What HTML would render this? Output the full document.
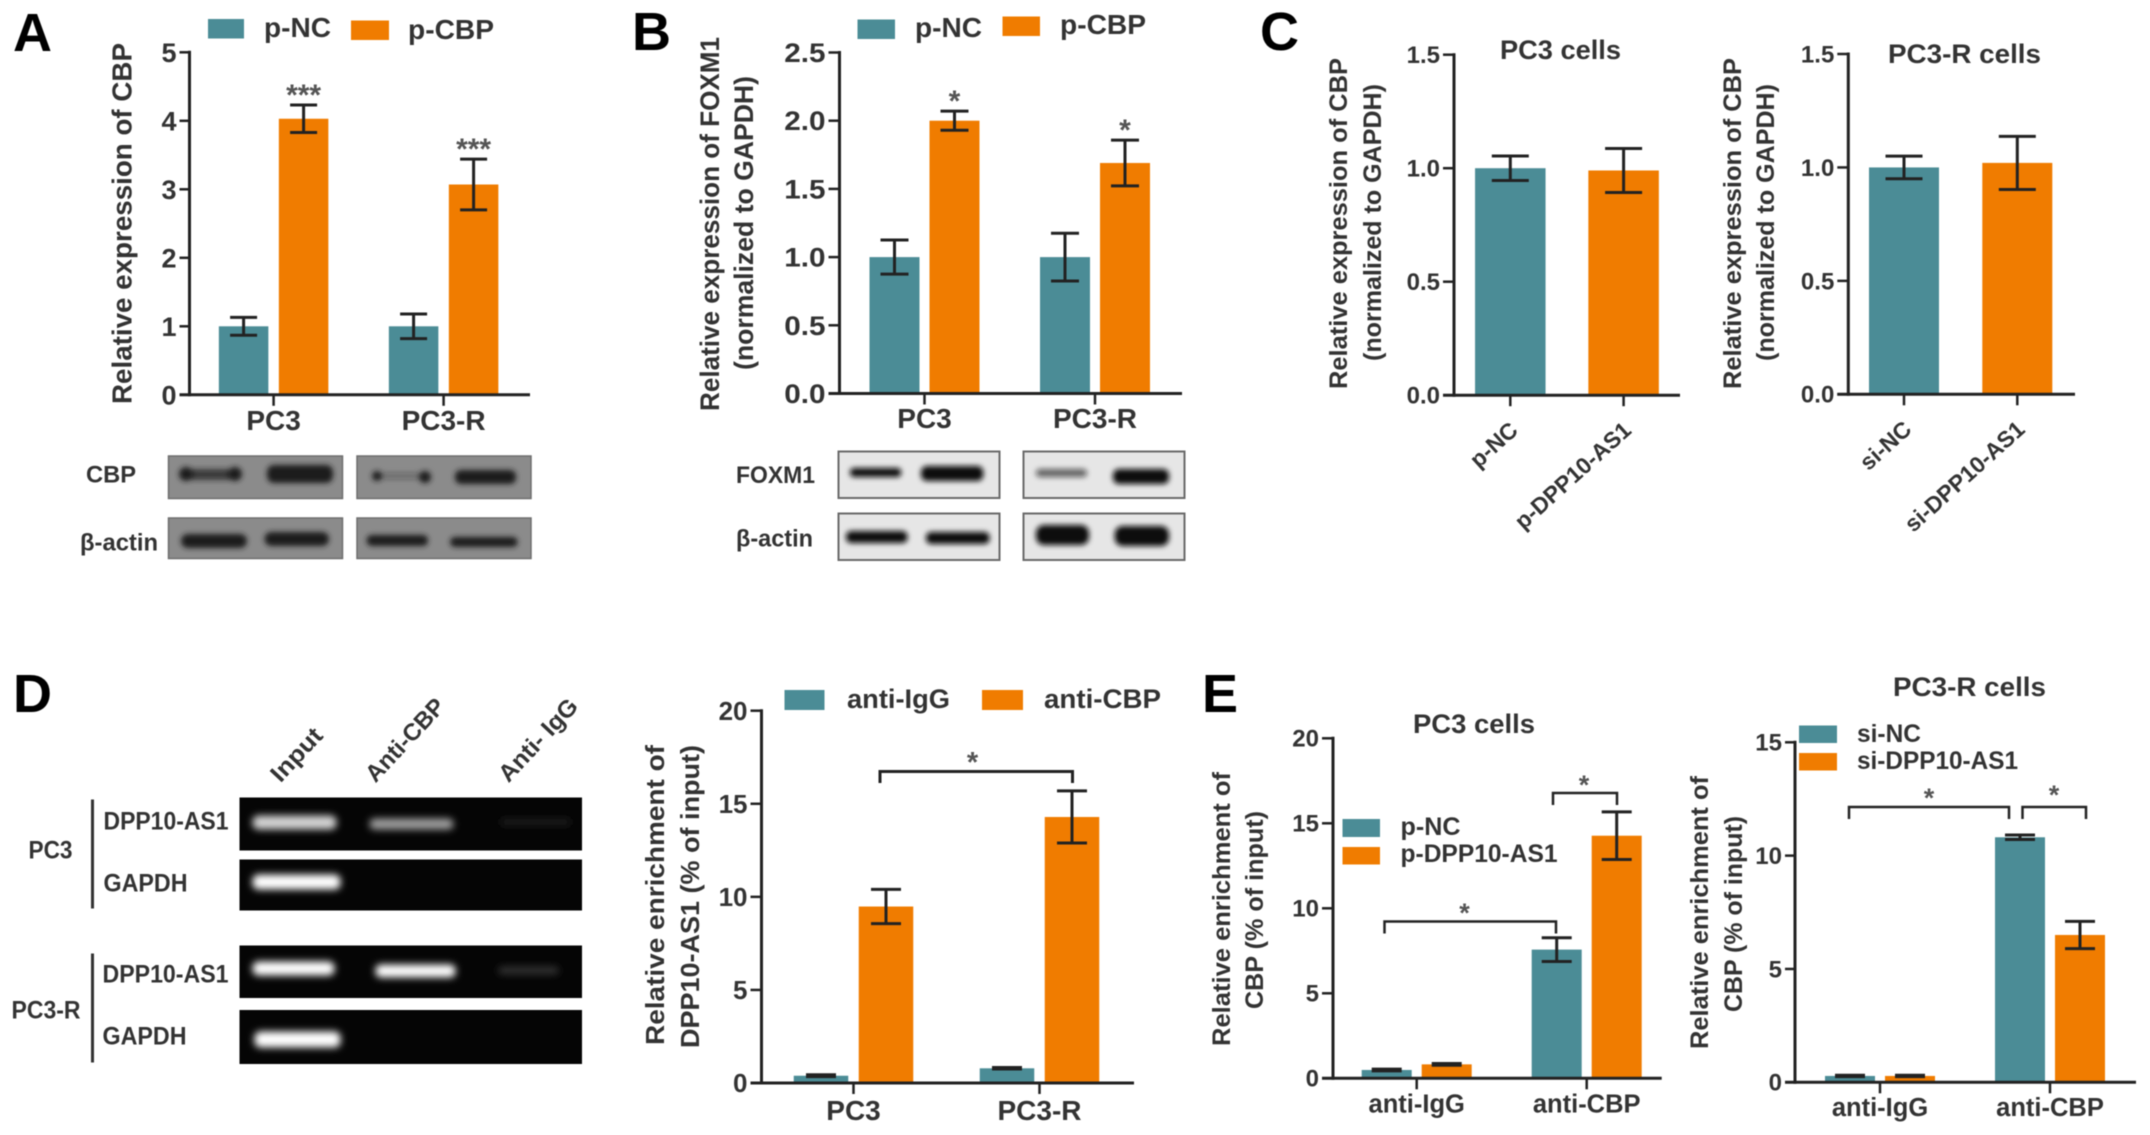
<!DOCTYPE html>
<html lang="en">
<head>
<meta charset="utf-8">
<title>CBP and DPP10-AS1 multi-panel figure</title>
<style>
html,body{margin:0;padding:0;background:#fff;width:2150px;height:1135px;overflow:hidden}
svg{display:block;filter:blur(.6px)}
text{font-family:"Liberation Sans",Arial,sans-serif;font-weight:bold;fill:#333}
.letter{fill:#000;font-size:54px}
.star{fill:#555}
</style>
</head>
<body>
<svg id="figure" xmlns="http://www.w3.org/2000/svg" width="2150" height="1135" viewBox="0 0 2150 1135">
<defs>
<filter id="blur2" x="-30%" y="-150%" width="160%" height="400%"><feGaussianBlur stdDeviation="2.6"/></filter>
<filter id="blur3" x="-30%" y="-200%" width="160%" height="500%"><feGaussianBlur stdDeviation="3.6"/></filter>
</defs>
<rect width="2150" height="1135" fill="#fff"/>

<!-- Panel A -->
<text class="letter" x="13" y="51">A</text>
<g>
<rect x="208" y="19" width="36" height="19.5" fill="#4b8c96"/>
<text x="264" y="37" font-size="28" textLength="67" lengthAdjust="spacingAndGlyphs">p-NC</text>
<rect x="351" y="20.5" width="38" height="19.5" fill="#f07c00"/>
<text x="408" y="39" font-size="28" textLength="86" lengthAdjust="spacingAndGlyphs">p-CBP</text>
</g>
<text transform="translate(131.5,404) rotate(-90)" font-size="28" textLength="361" lengthAdjust="spacingAndGlyphs">Relative expression of CBP</text>
<g id="chart-a"></g>
<g>
<text x="86" y="482.5" font-size="24" textLength="50" lengthAdjust="spacingAndGlyphs">CBP</text>
<text x="80" y="550.5" font-size="24" textLength="78" lengthAdjust="spacingAndGlyphs">β-actin</text>
<g fill="#8b8b8b" stroke="#6e6e6e" stroke-width="1.5">
<rect x="168.5" y="456" width="174" height="42.5"/><rect x="357" y="456" width="174" height="42.5"/>
<rect x="168.5" y="518" width="174" height="40.5"/><rect x="357" y="518" width="174" height="40.5"/>
</g>
<g fill="#1d1d1d" filter="url(#blur2)">
<rect x="179" y="469" width="62" height="11" rx="5" opacity=".72"/><circle cx="186" cy="474" r="7"/><circle cx="235" cy="474" r="7"/>
<rect x="267" y="465" width="66" height="18" rx="7"/>
<rect x="375" y="473" width="55" height="6" rx="3" opacity=".3"/><circle cx="377" cy="476" r="5"/><circle cx="425" cy="477" r="6"/>
<rect x="455" y="470" width="61" height="14" rx="6"/>
<rect x="181" y="534" width="66" height="14" rx="7"/><rect x="264.5" y="532" width="64.5" height="14" rx="7"/>
<rect x="366.6" y="535" width="61.4" height="11" rx="5"/><rect x="450" y="537" width="67.7" height="10" rx="5"/>
</g>
</g>

<!-- Panel B -->
<text class="letter" x="632" y="50">B</text>
<g>
<rect x="857.5" y="19.5" width="37.5" height="19.5" fill="#4b8c96"/>
<text x="915" y="37" font-size="28" textLength="67" lengthAdjust="spacingAndGlyphs">p-NC</text>
<rect x="1002.5" y="16.5" width="37.5" height="19.5" fill="#f07c00"/>
<text x="1060" y="34" font-size="28" textLength="86" lengthAdjust="spacingAndGlyphs">p-CBP</text>
</g>
<text transform="translate(719,411) rotate(-90)" font-size="27" textLength="374" lengthAdjust="spacingAndGlyphs">Relative expression of FOXM1</text>
<text transform="translate(753,370) rotate(-90)" font-size="27" textLength="294" lengthAdjust="spacingAndGlyphs">(normalized to GAPDH)</text>
<g id="chart-b"></g>
<g>
<text x="736" y="483" font-size="24" textLength="79" lengthAdjust="spacingAndGlyphs">FOXM1</text>
<text x="736" y="546.5" font-size="24" textLength="77" lengthAdjust="spacingAndGlyphs">β-actin</text>
<g fill="#e6e6e6" stroke="#6a6a6a" stroke-width="2">
<rect x="838.5" y="451.5" width="161" height="46.5"/><rect x="1023.5" y="451.5" width="161" height="46.5"/>
<rect x="838.5" y="513.5" width="161" height="46.5"/><rect x="1023.5" y="513.5" width="161" height="46.5"/>
</g>
<g fill="#0d0d0d" filter="url(#blur2)">
<rect x="850" y="468" width="51.2" height="9" rx="4"/><rect x="921" y="466" width="62.3" height="15" rx="6"/>
<rect x="1036" y="469" width="51" height="8" rx="4" opacity=".62"/><rect x="1113" y="469" width="56" height="15" rx="6"/>
<rect x="846" y="531" width="61.5" height="12" rx="5"/><rect x="926" y="532" width="63.6" height="12" rx="5"/>
<rect x="1036" y="525" width="53" height="20" rx="8"/><rect x="1114.7" y="526" width="54.3" height="20" rx="8"/>
</g>
</g>

<!-- Panel C -->
<text class="letter" x="1260" y="50">C</text>
<text x="1500" y="59" font-size="27" textLength="121" lengthAdjust="spacingAndGlyphs">PC3 cells</text>
<text x="1888" y="63" font-size="27" textLength="153" lengthAdjust="spacingAndGlyphs">PC3-R cells</text>
<text transform="translate(1347,389) rotate(-90)" font-size="25" textLength="331" lengthAdjust="spacingAndGlyphs">Relative expression of CBP</text>
<text transform="translate(1381,361) rotate(-90)" font-size="25" textLength="277" lengthAdjust="spacingAndGlyphs">(normalized to GAPDH)</text>
<text transform="translate(1741,389) rotate(-90)" font-size="25" textLength="331" lengthAdjust="spacingAndGlyphs">Relative expression of CBP</text>
<text transform="translate(1774,361) rotate(-90)" font-size="25" textLength="277" lengthAdjust="spacingAndGlyphs">(normalized to GAPDH)</text>
<g id="chart-c1"></g>
<g id="chart-c2"></g>

<!-- Panel D gel -->
<text class="letter" x="13" y="712">D</text>
<g transform="translate(-1.5,-1.5)">
<text transform="translate(282,785) rotate(-47)" font-size="24" textLength="64" lengthAdjust="spacingAndGlyphs">Input</text>
<text transform="translate(377,785) rotate(-47)" font-size="24" textLength="104" lengthAdjust="spacingAndGlyphs">Anti-CBP</text>
<text transform="translate(510,785) rotate(-47)" font-size="24" textLength="104" lengthAdjust="spacingAndGlyphs">Anti- IgG</text>
<text x="30" y="860" font-size="25" textLength="44" lengthAdjust="spacingAndGlyphs">PC3</text>
<text x="13" y="1020" font-size="25" textLength="69" lengthAdjust="spacingAndGlyphs">PC3-R</text>
<line x1="94" y1="801" x2="94" y2="910" stroke="#333" stroke-width="3"/>
<line x1="94" y1="955" x2="94" y2="1064" stroke="#333" stroke-width="3"/>
<text x="105" y="831" font-size="25" textLength="125" lengthAdjust="spacingAndGlyphs">DPP10-AS1</text>
<text x="105" y="893" font-size="25" textLength="84" lengthAdjust="spacingAndGlyphs">GAPDH</text>
<text x="104" y="984" font-size="25" textLength="126" lengthAdjust="spacingAndGlyphs">DPP10-AS1</text>
<text x="104" y="1046" font-size="25" textLength="84" lengthAdjust="spacingAndGlyphs">GAPDH</text>
<g fill="#050505">
<rect x="241" y="799" width="342.5" height="53"/><rect x="241" y="861" width="342.5" height="51"/>
<rect x="241" y="947" width="342.5" height="52.5"/><rect x="241" y="1011.5" width="342.5" height="54"/>
</g>
<g filter="url(#blur3)">
<rect x="254" y="817" width="84" height="14" rx="6" fill="#d4d4d4"/><rect x="371" y="820" width="84" height="11" rx="5" fill="#a0a0a0"/><rect x="502" y="820" width="70" height="7" rx="3" fill="#1e1e1e"/>
<rect x="254" y="876" width="88" height="15" rx="6" fill="#ffffff"/>
<rect x="254" y="963" width="82" height="14" rx="6" fill="#ffffff"/><rect x="377" y="966" width="80" height="13" rx="5" fill="#ffffff"/><rect x="500" y="968" width="60" height="8" rx="3" fill="#303030"/>
<rect x="256" y="1033" width="86" height="16" rx="6" fill="#ffffff"/>
</g>
</g>

<!-- Panel D chart -->
<g>
<rect x="784.5" y="690" width="40" height="20" fill="#4b8c96"/>
<text x="847" y="708" font-size="27" textLength="103" lengthAdjust="spacingAndGlyphs">anti-IgG</text>
<rect x="982" y="690" width="41" height="20" fill="#f07c00"/>
<text x="1044" y="708" font-size="27" textLength="117" lengthAdjust="spacingAndGlyphs">anti-CBP</text>
</g>
<text transform="translate(664,1045) rotate(-90)" font-size="26" textLength="300" lengthAdjust="spacingAndGlyphs">Relative enrichment of</text>
<text transform="translate(699,1048) rotate(-90)" font-size="26" textLength="303" lengthAdjust="spacingAndGlyphs">DPP10-AS1 (% of input)</text>
<g id="chart-d"></g>
<path d="M880 783V771.5H1072.5V783" fill="none" stroke="#222" stroke-width="3"/>
<text class="star" x="972.5" y="772" font-size="29" text-anchor="middle">*</text>

<!-- Panel E -->
<text class="letter" x="1202" y="712">E</text>
<text x="1413" y="733" font-size="27" textLength="122" lengthAdjust="spacingAndGlyphs">PC3 cells</text>
<text x="1893" y="696" font-size="27" textLength="153" lengthAdjust="spacingAndGlyphs">PC3-R cells</text>
<g>
<rect x="1342.5" y="819" width="37.5" height="18" fill="#4b8c96"/>
<text x="1400.5" y="835" font-size="25" textLength="60" lengthAdjust="spacingAndGlyphs">p-NC</text>
<rect x="1342.5" y="847" width="37.5" height="17.5" fill="#f07c00"/>
<text x="1400.5" y="862" font-size="25" textLength="157" lengthAdjust="spacingAndGlyphs">p-DPP10-AS1</text>
</g>
<g>
<rect x="1799" y="725.5" width="38" height="17.5" fill="#4b8c96"/>
<text x="1857" y="742" font-size="25" textLength="64" lengthAdjust="spacingAndGlyphs">si-NC</text>
<rect x="1799" y="753" width="38" height="17.5" fill="#f07c00"/>
<text x="1857" y="769" font-size="25" textLength="161" lengthAdjust="spacingAndGlyphs">si-DPP10-AS1</text>
</g>
<text transform="translate(1230,1046) rotate(-90)" font-size="25" textLength="274" lengthAdjust="spacingAndGlyphs">Relative enrichment of</text>
<text transform="translate(1263,1009) rotate(-90)" font-size="25" textLength="198" lengthAdjust="spacingAndGlyphs">CBP (% of input)</text>
<text transform="translate(1708,1049) rotate(-90)" font-size="25" textLength="273" lengthAdjust="spacingAndGlyphs">Relative enrichment of</text>
<text transform="translate(1742,1012) rotate(-90)" font-size="25" textLength="196" lengthAdjust="spacingAndGlyphs">CBP (% of input)</text>
<g id="chart-e1"></g>
<g id="chart-e2"></g>
<path d="M1384.5 933.5V921.5H1556V933.5" fill="none" stroke="#222" stroke-width="2.5"/>
<text class="star" x="1464.5" y="922" font-size="27" text-anchor="middle">*</text>
<path d="M1553 805V793H1617V805" fill="none" stroke="#222" stroke-width="2.5"/>
<text class="star" x="1584" y="794" font-size="27" text-anchor="middle">*</text>
<path d="M1849 819V807H2009V819" fill="none" stroke="#222" stroke-width="2.5"/>
<text class="star" x="1929" y="807" font-size="27" text-anchor="middle">*</text>
<path d="M2022.5 819V807H2086V819" fill="none" stroke="#222" stroke-width="2.5"/>
<text class="star" x="2054" y="804" font-size="27" text-anchor="middle">*</text>
</svg>

<script>
// ---- Chart data ----
const aCategories = ['PC3', 'PC3-R'];
const aTicks = ['0', '1', '2', '3', '4', '5'];
const aNC = [1.0, 1.0];
const aNCErr = [0.13, 0.18];
const aCBP = [4.03, 3.07];
const aCBPErr = [0.2, 0.37];
const aCBPStars = ['***', '***'];

const bCategories = ['PC3', 'PC3-R'];
const bTicks = ['0.0', '0.5', '1.0', '1.5', '2.0', '2.5'];
const bNC = [1.0, 1.0];
const bNCErr = [0.125, 0.175];
const bCBP = [2.0, 1.69];
const bCBPErr = [0.07, 0.168];
const bCBPStars = ['*', '*'];

const c1Categories = ['p-NC', 'p-DPP10-AS1'];
const c1Ticks = ['0.0', '0.5', '1.0', '1.5'];
const c1Values = [1.0, 0.99];
const c1Err = [0.054, 0.097];

const c2Categories = ['si-NC', 'si-DPP10-AS1'];
const c2Ticks = ['0.0', '0.5', '1.0', '1.5'];
const c2Values = [1.0, 1.02];
const c2Err = [0.05, 0.117];

const dCategories = ['PC3', 'PC3-R'];
const dTicks = ['0', '5', '10', '15', '20'];
const dIgG = [0.39, 0.79];
const dIgGErr = [0.05, 0.04];
const dCBP = [9.48, 14.29];
const dCBPErr = [0.92, 1.4];

const e1Categories = ['anti-IgG', 'anti-CBP'];
const e1Ticks = ['0', '5', '10', '15', '20'];
const e1NC = [0.49, 7.57];
const e1NCErr = [0.05, 0.7];
const e1DPP = [0.82, 14.27];
const e1DPPErr = [0.05, 1.4];

const e2Categories = ['anti-IgG', 'anti-CBP'];
const e2Ticks = ['0', '5', '10', '15'];
const e2NC = [0.28, 10.81];
const e2NCErr = [0.03, 0.1];
const e2DPP = [0.28, 6.5];
const e2DPPErr = [0.03, 0.6];

const TEAL = '#4b8c96';
const ORANGE = '#f07c00';
const NS = 'http://www.w3.org/2000/svg';

function makeEl(tag, parent) {
  const el = document.createElementNS(NS, tag);
  parent.appendChild(el);
  return el;
}

function drawChart(o) {
  const root = document.getElementById(o.id);
  const yMax = Number(o.ticks[o.ticks.length - 1]);
  const yScale = function (v) { return o.bottom - (v / yMax) * (o.bottom - o.top); };
  const xCenter = function (i) { return o.firstX + i * o.stepX; };

  // bars
  o.series.forEach(function (s) {
    s.values.forEach(function (v, i) {
      const x = xCenter(i) + s.offset;
      const rect = makeEl('rect', root);
      rect.setAttribute('x', x - o.barW / 2);
      rect.setAttribute('y', yScale(v));
      rect.setAttribute('width', o.barW);
      rect.setAttribute('height', o.bottom - yScale(v));
      rect.setAttribute('fill', s.colors ? s.colors[i] : s.color);
      
      
    });
  });

  // y axis line
  const yAxis = makeEl('line', root);
  yAxis.setAttribute('x1', o.left);
  yAxis.setAttribute('x2', o.left);
  yAxis.setAttribute('y1', o.top - 1.5);
  yAxis.setAttribute('y2', o.bottom + 1.5);
  yAxis.setAttribute('stroke', '#222');
  yAxis.setAttribute('stroke-width', 3);
  
  

  // x axis line
  const xAxis = makeEl('line', root);
  xAxis.setAttribute('x1', o.left - o.tickLen);
  xAxis.setAttribute('x2', o.right);
  xAxis.setAttribute('y1', o.bottom);
  xAxis.setAttribute('y2', o.bottom);
  xAxis.setAttribute('stroke', '#222');
  xAxis.setAttribute('stroke-width', 3);
  
  

  // y ticks and labels
  o.ticks.forEach(function (label) {
    const y = yScale(Number(label));
    const tick = makeEl('line', root);
    tick.setAttribute('x1', o.left - o.tickLen);
    tick.setAttribute('x2', o.left);
    tick.setAttribute('y1', y);
    tick.setAttribute('y2', y);
    tick.setAttribute('stroke', '#222');
    tick.setAttribute('stroke-width', 2.5);
    
    
    const t = makeEl('text', root);
    t.textContent = label;
    t.setAttribute('transform', 'translate(' + (o.left - o.tickLen - 3) + ',' + (y + o.tickFont * 0.35) + ') scale(' + o.tickStretch + ',1)');
    t.setAttribute('text-anchor', 'end');
    t.setAttribute('font-size', o.tickFont);
    
    
  });

  // x ticks and category labels
  o.categories.forEach(function (label, i) {
    const x = xCenter(i);
    const tick = makeEl('line', root);
    tick.setAttribute('x1', x);
    tick.setAttribute('x2', x);
    tick.setAttribute('y1', o.bottom);
    tick.setAttribute('y2', o.bottom + 11);
    tick.setAttribute('stroke', '#222');
    tick.setAttribute('stroke-width', 2.5);
    
    
    const t = makeEl('text', root);
    t.textContent = label;
    if (o.catRotate) {
      t.setAttribute('transform', 'translate(' + (x + 9) + ',' + (o.bottom + 37) + ') rotate(' + o.catRotate + ')');
      t.setAttribute('text-anchor', 'end');
    } else {
      t.setAttribute('x', x);
      t.setAttribute('y', o.catY);
      t.setAttribute('text-anchor', 'middle');
    }
    t.setAttribute('font-size', o.catFont);
    
    
  });

  // error bars
  o.series.forEach(function (s) {
    s.values.forEach(function (v, i) {
      const x = xCenter(i) + s.offset;
      const yHi = yScale(v + s.errors[i]);
      const yLo = yScale(v - s.errors[i]);
      const c = o.capW / 2;
      const err = makeEl('path', root);
      err.setAttribute('d', 'M' + (x - c) + ' ' + yHi + 'H' + (x + c) + 'M' + x + ' ' + yHi + 'V' + yLo + 'M' + (x - c) + ' ' + yLo + 'H' + (x + c));
      err.setAttribute('fill', 'none');
      err.setAttribute('stroke', '#222');
      err.setAttribute('stroke-width', 3);
      
      
      if (s.stars) {
        const star = makeEl('text', root);
        star.textContent = s.stars[i];
        star.setAttribute('x', x);
        star.setAttribute('y', yHi);
        star.setAttribute('text-anchor', 'middle');
        star.setAttribute('font-size', 30);
        star.setAttribute('class', 'star');
        
        
      }
    });
  });
}

drawChart({
  id: 'chart-a', left: 189.5, right: 530, top: 52.3, bottom: 394.8, tickLen: 10,
  firstX: 273.6, stepX: 170, barW: 49.5, capW: 27, tickFont: 27, tickStretch: 1, catFont: 28, catY: 430,
  categories: aCategories, ticks: aTicks,
  series: [
    { key: 'p-nc', values: aNC, errors: aNCErr, color: TEAL, offset: -30 },
    { key: 'p-cbp', values: aCBP, errors: aCBPErr, color: ORANGE, offset: 30, stars: aCBPStars }
  ]
});

drawChart({
  id: 'chart-b', left: 839.5, right: 1182, top: 52.5, bottom: 393.5, tickLen: 11,
  firstX: 924.5, stepX: 170.5, barW: 50, capW: 28, tickFont: 27, tickStretch: 1.1, catFont: 28, catY: 428,
  categories: bCategories, ticks: bTicks,
  series: [
    { key: 'p-nc', values: bNC, errors: bNCErr, color: TEAL, offset: -30 },
    { key: 'p-cbp', values: bCBP, errors: bCBPErr, color: ORANGE, offset: 30, stars: bCBPStars }
  ]
});

drawChart({
  id: 'chart-c1', left: 1454, right: 1680, top: 54.7, bottom: 395.2, tickLen: 11,
  firstX: 1510.3, stepX: 113.3, barW: 70.5, capW: 37, tickFont: 24, tickStretch: 1, catFont: 23, catRotate: -42,
  categories: c1Categories, ticks: c1Ticks,
  series: [
    { key: 'cbp', values: c1Values, errors: c1Err, colors: [TEAL, ORANGE], offset: 0 }
  ]
});

drawChart({
  id: 'chart-c2', left: 1848.3, right: 2075, top: 54, bottom: 394.3, tickLen: 11,
  firstX: 1904, stepX: 113.3, barW: 70, capW: 37, tickFont: 24, tickStretch: 1, catFont: 23, catRotate: -42,
  categories: c2Categories, ticks: c2Ticks,
  series: [
    { key: 'cbp', values: c2Values, errors: c2Err, colors: [TEAL, ORANGE], offset: 0 }
  ]
});

drawChart({
  id: 'chart-d', left: 761.5, right: 1134, top: 710.7, bottom: 1083, tickLen: 11,
  firstX: 853.5, stepX: 186, barW: 54.5, capW: 30, tickFont: 26, tickStretch: 1, catFont: 28, catY: 1120,
  categories: dCategories, ticks: dTicks,
  series: [
    { key: 'anti-igg', values: dIgG, errors: dIgGErr, color: TEAL, offset: -32.5 },
    { key: 'anti-cbp', values: dCBP, errors: dCBPErr, color: ORANGE, offset: 32.5 }
  ]
});

drawChart({
  id: 'chart-e1', left: 1333, right: 1661.7, top: 738.3, bottom: 1078.3, tickLen: 11,
  firstX: 1416.7, stepX: 170, barW: 50, capW: 30, tickFont: 24, tickStretch: 1, catFont: 25.5, catY: 1112.7,
  categories: e1Categories, ticks: e1Ticks,
  series: [
    { key: 'p-nc', values: e1NC, errors: e1NCErr, color: TEAL, offset: -30 },
    { key: 'p-dpp10-as1', values: e1DPP, errors: e1DPPErr, color: ORANGE, offset: 30 }
  ]
});

drawChart({
  id: 'chart-e2', left: 1795, right: 2136, top: 742.3, bottom: 1082.3, tickLen: 10,
  firstX: 1880, stepX: 170, barW: 50, capW: 30, tickFont: 24, tickStretch: 1, catFont: 25.5, catY: 1116,
  categories: e2Categories, ticks: e2Ticks,
  series: [
    { key: 'si-nc', values: e2NC, errors: e2NCErr, color: TEAL, offset: -30 },
    { key: 'si-dpp10-as1', values: e2DPP, errors: e2DPPErr, color: ORANGE, offset: 30 }
  ]
});
</script>
</body>
</html>
